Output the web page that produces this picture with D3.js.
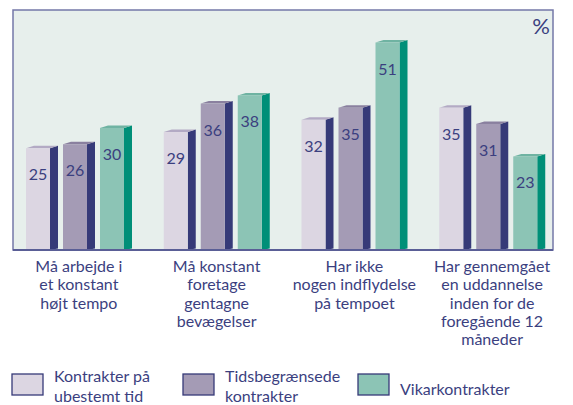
<!DOCTYPE html>
<html>
<head>
<meta charset="utf-8">
<script src="https://cdn.jsdelivr.net/npm/d3@7"></script>
<style>
  body { margin: 0; background: #fff; }
  text { font-family: Lato, "Noto Sans", sans-serif; fill: #3b3f7f; }
</style>
</head>
<body>
<div id="chart"></div>
<script>
// data
var categories = [
  ["Må arbejde i", "et konstant", "højt tempo"],
  ["Må konstant", "foretage", "gentagne", "bevægelser"],
  ["Har ikke", "nogen indflydelse", "på tempoet"],
  ["Har gennemgået", "en uddannelse", "inden for de", "foregående 12", "måneder"]
]
var series = ["Kontrakter på ubestemt tid", "Tidsbegrænsede kontrakter", "Vikarkontrakter"]
var legendLines = [["Kontrakter på", "ubestemt tid"], ["Tidsbegrænsede", "kontrakter"], ["Vikarkontrakter"]]
var fast = [25, 29, 32, 35]
var tids = [26, 36, 35, 31]
var vikar = [30, 38, 51, 23]

var values = [fast, tids, vikar]
var front = ["#dcd6e2", "#a49bb5", "#8cc4b5"]
var side = ["#363a78", "#363a78", "#008f78"]
var top_ = ["#b3aac4", "#8a809f", "#6fb3a2"]

var svgWidth = 573
var svgHeight = 405

var svg = d3.select("#chart")
  .append("svg")
  .attr("width", svgWidth)
  .attr("height", svgHeight)

// plot frame
var frame = {left: 13, top: 10, right: 553, bottom: 250}

svg.append("rect")
  .attr("x", frame.left)
  .attr("y", frame.top)
  .attr("width", frame.right - frame.left)
  .attr("height", frame.bottom - frame.top)
  .attr("fill", "#e7efec")
  .attr("stroke", "#7478a8")
  .attr("stroke-width", 1.5)

// scales
var x0 = d3.scaleBand()
  .domain(d3.range(categories.length))
  .range([10, 561])

var x1 = d3.scaleBand()
  .domain(d3.range(series.length))
  .range([16, 127])

var y = d3.scaleLinear()
  .domain([0, 59])
  .range([frame.bottom, frame.top])

var barW = 24
var sideW = 8
var depth = 2.5

var groups = svg.selectAll("g.group")
  .data(categories)
  .enter()
  .append("g")
  .attr("class", "group")
  .attr("transform", (d, i) => `translate(${x0(i)}, 0)`)

groups.each(function(cat, ci) {
  var g = d3.select(this)
  series.forEach(function(s, si) {
    var v = values[si][ci]
    var bx = x1(si)
    var by = y(v)
    var base = y(0)
    // side face
    g.append("path")
      .attr("d", `M${bx + barW},${by} L${bx + barW + sideW},${by - depth} L${bx + barW + sideW},${base - 1.5} L${bx + barW},${base} Z`)
      .attr("fill", side[si])
    // top face
    g.append("path")
      .attr("d", `M${bx},${by} L${bx + sideW},${by - depth} L${bx + barW + sideW},${by - depth} L${bx + barW},${by} Z`)
      .attr("fill", top_[si])
    // front face
    g.append("rect")
      .attr("x", bx)
      .attr("y", by)
      .attr("width", barW)
      .attr("height", base - by)
      .attr("fill", front[si])
    // value label
    g.append("text")
      .attr("x", bx + barW / 2)
      .attr("y", by + 32)
      .attr("text-anchor", "middle")
      .style("font-size", "16px")
      .text(v)
  })
})

// bottom line
svg.append("line")
  .attr("x1", frame.left)
  .attr("x2", frame.right)
  .attr("y1", frame.bottom)
  .attr("y2", frame.bottom)
  .attr("stroke", "#5a5e96")
  .attr("stroke-width", 2)

// category labels
groups.append("text")
  .attr("x", x0.bandwidth() / 2)
  .attr("y", 272)
  .attr("text-anchor", "middle")
  .style("font-size", "16px")
  .selectAll("tspan")
  .data(d => d)
  .enter()
  .append("tspan")
  .attr("x", x0.bandwidth() / 2)
  .attr("dy", (d, i) => i === 0 ? 0 : 18.3)
  .text(d => d)

// percent sign
svg.append("text")
  .attr("x", 550)
  .attr("y", 34)
  .attr("text-anchor", "end")
  .style("font-size", "22px")
  .text("%")

// legend
var legendX = [12, 183, 358]
var legend = svg.selectAll("g.legend")
  .data(series)
  .enter()
  .append("g")
  .attr("class", "legend")
  .attr("transform", (d, i) => `translate(${legendX[i]}, 374)`)

legend.append("rect")
  .attr("width", 31)
  .attr("height", 21)
  .attr("fill", (d, i) => front[i])
  .attr("stroke", "#363a78")
  .attr("stroke-width", 1.3)

legend.append("text")
  .attr("x", 42)
  .attr("y", (d, i) => legendLines[i].length > 1 ? 8.3 : 21)
  .style("font-size", "16px")
  .selectAll("tspan")
  .data((d, i) => legendLines[i])
  .enter()
  .append("tspan")
  .attr("x", 42)
  .attr("dy", (d, i) => i === 0 ? 0 : 19.2)
  .text(d => d)
</script>
</body>
</html>
